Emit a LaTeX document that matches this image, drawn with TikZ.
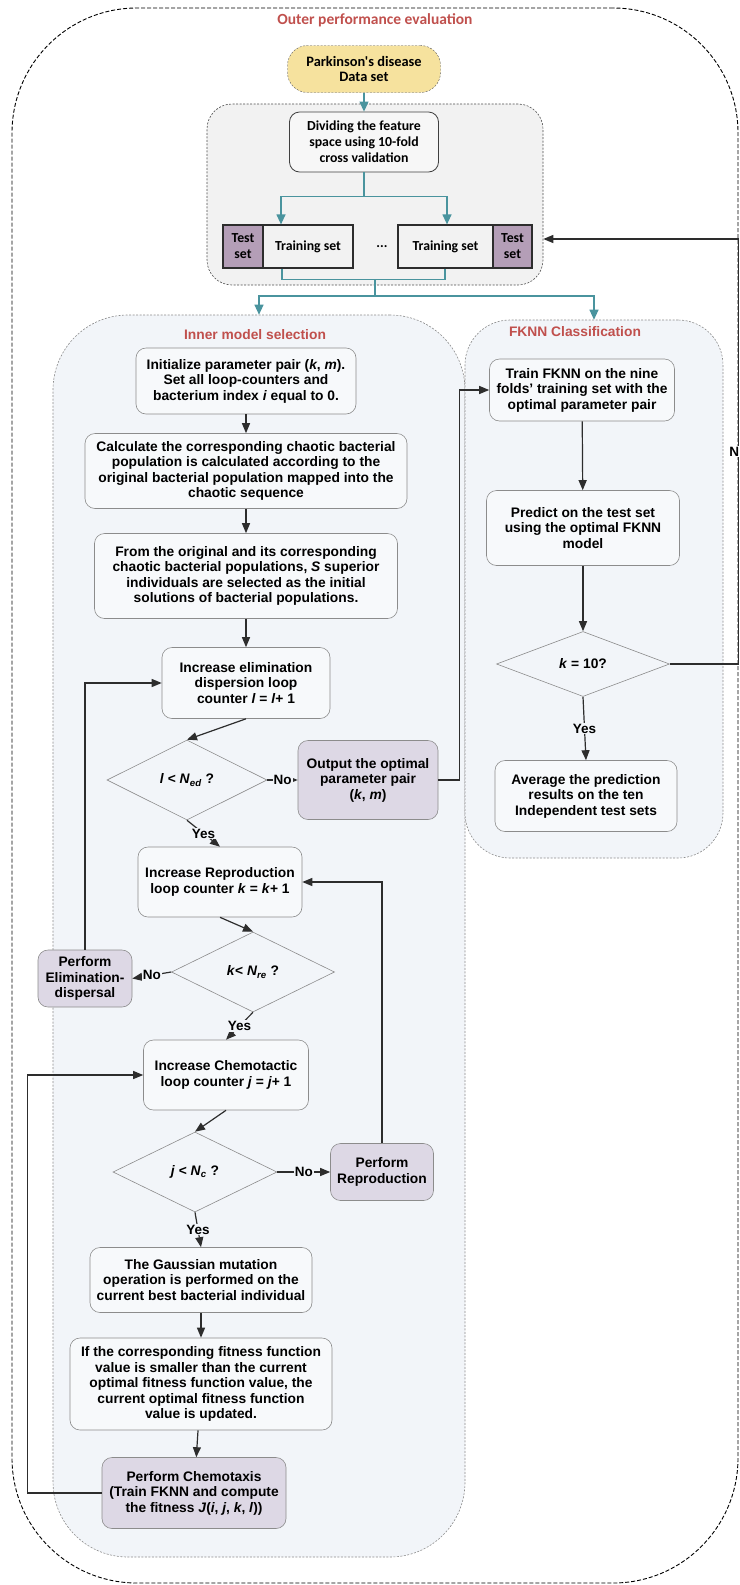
\documentclass[tikz,border=0pt]{standalone}
\usepackage{fontspec}
\setmainfont{Liberation Sans}
\newfontfamily\calfont{Carlito}
\usetikzlibrary{shapes.geometric,arrows.meta}

\definecolor{ttlred}{RGB}{192,80,77}
\definecolor{pdfill}{RGB}{246,226,158}
\definecolor{cvfill}{RGB}{242,242,242}
\definecolor{inbg}{RGB}{242,245,249}
\definecolor{boxfill}{RGB}{247,249,251}
\definecolor{boxline}{RGB}{140,140,140}
\definecolor{purfill}{RGB}{221,216,229}
\definecolor{tsfill}{RGB}{180,158,183}
\definecolor{flowteal}{RGB}{74,148,158}
\definecolor{flowline}{RGB}{45,45,45}

\begin{document}
\begin{tikzpicture}[x=1pt, y=-1pt,
        txt/.style={font=\bfseries\fontsize{13.8}{15.5}\selectfont, align=center},
        cal/.style={font=\calfont\bfseries\fontsize{13.8}{16}\selectfont, align=center},
        group/.style={draw=boxline, dash pattern=on 2pt off 1.5pt, line width=0.6pt, fill=inbg},
        grouptitle/.style={font=\bfseries\fontsize{13.8}{16}\selectfont, text=ttlred},
        stepbox/.style={txt, draw=boxline, fill=boxfill, rounded corners=10pt, line width=0.6pt, inner sep=2pt},
        actbox/.style={stepbox, fill=purfill},
        decision/.style={txt, diamond, draw=boxline, line width=0.6pt, inner sep=0pt},
        setbox/.style={cal, draw=flowline, line width=1.2pt, minimum height=43pt, inner sep=0pt},
        flow/.style={draw=flowline, line width=1.2pt, -{Triangle[length=10pt,width=8pt]}},
        link/.style={draw=flowline, line width=1.2pt},
        tflow/.style={draw=flowteal, line width=1.2pt, -{Triangle[length=10pt,width=9pt]}},
        tline/.style={draw=flowteal, line width=1.2pt},
        lbl/.style={font=\bfseries\fontsize{13.5}{15}\selectfont, fill=inbg, inner sep=1pt}]
        \useasboundingbox (0,0) rectangle (739,1585);

        \node[draw=black, dash pattern=on 4pt off 2pt, line width=0.9pt, rounded corners=125pt, minimum width=726pt, minimum height=1575pt] (outer) at (375,795.5) {};
        \node[font=\calfont\bfseries\fontsize{15.5}{18}\selectfont, text=ttlred] (outerttl) at (375,20) {Outer performance evaluation};

        \node[group, fill=cvfill, draw=black!70, rounded corners=25pt, minimum width=336pt, minimum height=181pt] (cvgroup) at (375,194.5) {};
        \node[group, rounded corners=75pt, minimum width=412pt, minimum height=1242pt] (inner) at (259,936) {};
        \node[group, rounded corners=45pt, minimum width=258pt, minimum height=538pt] (fknn) at (594,589) {};
        \node[grouptitle] (innerttl) at (255,335) {Inner model selection};
        \node[grouptitle] (fknnttl) at (575,332) {FKNN Classification};

        \node[cal, font=\calfont\bfseries\fontsize{14.4}{15}\selectfont, draw=black!65, dash pattern=on 2pt off 1.5pt, fill=pdfill, rounded corners=20pt, minimum width=153pt, minimum height=47pt] (pd) at (364,69) {Parkinson's disease\\Data set};
        \node[cal, draw=black!75, line width=0.8pt, fill=white!97!black, rounded corners=10pt, minimum width=149pt, minimum height=60pt] (divide) [below of=pd, node distance=73pt] {Dividing the feature\\space using 10-fold\\cross validation};
        \node[setbox, fill=cvfill, minimum width=90pt] (trL) [below of=divide, node distance=104.5pt, xshift=-56pt] {Training set};
        \node[setbox, fill=tsfill, minimum width=40pt] (tsL) [left of=trL, node distance=65pt] {Test\\set};
        \node[setbox, fill=cvfill, minimum width=95pt] (trR) [right of=trL, node distance=137.5pt] {Training set};
        \node[setbox, fill=tsfill, minimum width=39pt] (tsR) [right of=trR, node distance=67pt] {Test\\set};
        \node[cal] (dots) [right of=trL, node distance=74pt] {...};

        \node[stepbox, minimum width=220pt, minimum height=66pt] (init) at (246,381) {Initialize parameter pair (\textit{k}, \textit{m}).\\Set all loop-counters and\\bacterium index \textit{i} equal to 0.};
        \node[stepbox, minimum width=322pt, minimum height=75pt] (calc) [below of=init, node distance=90pt] {Calculate the corresponding chaotic bacterial\\population is calculated according to the\\original bacterial population mapped into the\\chaotic sequence};
        \node[stepbox, minimum width=303pt, minimum height=85pt] (from) [below of=calc, node distance=105pt] {From the original and its corresponding\\chaotic bacterial populations, \textit{S} superior\\individuals are selected as the initial\\solutions of bacterial populations.};
        \node[stepbox, minimum width=168pt, minimum height=71pt] (elim) [below of=from, node distance=107pt] {Increase elimination\\dispersion loop\\counter \textit{l} = \textit{l}+ 1};
        \node[decision, minimum width=160pt, minimum height=80pt] (ded) [below of=elim, node distance=97pt, xshift=-59pt] {\textit{l} < \textit{N}\textsubscript{\textit{ed}} ?};
        \node[actbox, minimum width=140pt, minimum height=79pt] (output) [right of=ded, node distance=181pt] {Output the optimal\\parameter pair\\(\textit{k}, \textit{m})};
        \node[stepbox, minimum width=164pt, minimum height=70pt] (repro) [below of=ded, node distance=102pt, xshift=33pt] {Increase Reproduction\\loop counter \textit{k} = \textit{k}+ 1};
        \node[decision, minimum width=163pt, minimum height=80pt] (dre) [below of=repro, node distance=90pt, xshift=33pt] {\textit{k}< \textit{N}\textsubscript{\textit{re}} ?};
        \node[actbox, minimum width=94pt, minimum height=57pt] (elimdisp) [left of=dre, node distance=168pt, yshift=-6.5pt] {Perform\\Elimination-\\dispersal};
        \node[stepbox, minimum width=165pt, minimum height=70pt] (chemo) [below of=dre, node distance=103pt, xshift=-27pt] {Increase Chemotactic\\loop counter \textit{j} = \textit{j}+ 1};
        \node[decision, minimum width=164pt, minimum height=80pt] (dc) [below of=chemo, node distance=97pt, xshift=-31pt] {\textit{j} < \textit{N}\textsubscript{\textit{c}} ?};
        \node[actbox, minimum width=103pt, minimum height=57pt] (reprod) [right of=dc, node distance=187pt] {Perform\\Reproduction};
        \node[stepbox, minimum width=222pt, minimum height=65pt] (gauss) [below of=dc, node distance=108pt, xshift=6pt] {The Gaussian mutation\\operation is performed on the\\current best bacterial individual};
        \node[stepbox, minimum width=262pt, minimum height=92pt] (ifbox) [below of=gauss, node distance=104pt] {If the corresponding fitness function\\value is smaller than the current\\optimal fitness function value, the\\current optimal fitness function\\value is updated.};
        \node[actbox, minimum width=184pt, minimum height=71pt] (chemotaxis) [below of=ifbox, node distance=109pt, xshift=-7pt] {Perform Chemotaxis\\(Train FKNN and compute\\the fitness \textit{J}(\textit{i}, \textit{j}, \textit{k}, \textit{l}))};

        \node[stepbox, minimum width=185pt, minimum height=62pt] (train) at (582,390) {Train FKNN on the nine\\folds' training set with the\\optimal parameter pair};
        \node[stepbox, minimum width=193pt, minimum height=75pt] (predict) [below of=train, node distance=138pt, xshift=1pt] {Predict on the test set\\using the optimal FKNN\\model};
        \node[decision, minimum width=173pt, minimum height=65pt] (dk) [below of=predict, node distance=136pt] {\textit{k} = 10?};
        \node[stepbox, minimum width=182pt, minimum height=71pt] (average) [below of=dk, node distance=132pt, xshift=3pt] {Average the prediction\\results on the ten\\Independent test sets};

        \draw[tflow] (pd) -- (divide);
        \draw[tline] (divide.south) -- ++(0,24) coordinate (split);
        \draw[tflow] (split) -| ([xshift=-27pt]trL.north);
        \draw[tflow] (split) -| ([xshift=1.5pt]trR.north);
        \draw[tline] ([xshift=-26pt]trL.south) -- ++(0,11) -| ([xshift=-0.5pt]trR.south);
        \coordinate (merge) at (375,279);
        \draw[tline] (merge) -- ++(0,17) coordinate (fork);
        \draw[tflow] (fork) -| (inner.north);
        \draw[tflow] (fork) -| (fknn.north);

        \draw[flow] (init) -- (calc);
        \draw[flow] (calc) -- (from);
        \draw[flow] (from) -- (elim);
        \draw[flow] (elim.south) -- (ded.north);
        \draw[flow] (ded.east) -- node[lbl] {No} (output.west);
        \draw[flow] (output.east) -- ++(21,0) |- (train.west);
        \draw[flow] (ded.south) -- node[lbl] {Yes} (repro.north);
        \draw[flow] (repro.south) -- (dre.north);
        \draw[flow] (dre.west) -- node[lbl] {No} (elimdisp.east);
        \draw[flow] (elimdisp.north) |- (elim.west);
        \draw[flow] (dre.south) -- node[lbl] {Yes} (chemo.north);
        \draw[flow] (chemo.south) -- (dc.north);
        \draw[flow] (dc.east) -- node[lbl] {No} (reprod.west);
        \draw[flow] (reprod.north) |- (repro.east);
        \draw[flow] (dc.south) -- node[lbl] {Yes} (gauss.north);
        \draw[flow] (gauss) -- (ifbox);
        \draw[flow] (ifbox) -- (chemotaxis);
        \draw[flow] (chemotaxis.west) -- ++(-74,0) |- (chemo.west);

        \draw[flow] (train) -- (predict);
        \draw[flow] (predict) -- (dk);
        \draw[flow] (dk.south) -- node[lbl] {Yes} (average.north);
        \draw[flow] (dk.east) -- ++(68.5,0) |- ([yshift=-44.5pt]cvgroup.east) node[lbl, fill=white, pos=0.25, xshift=-4pt] {N};
      \end{tikzpicture}
\end{document}
